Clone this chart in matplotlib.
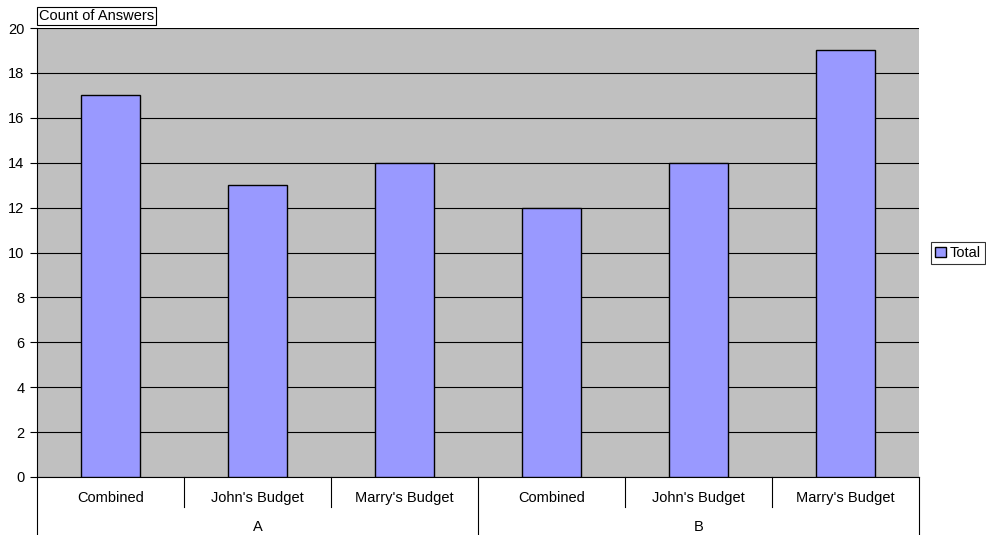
import matplotlib
matplotlib.use("Agg")
import matplotlib.pyplot as plt
from matplotlib.patches import Patch
from matplotlib.lines import Line2D

plt.rcParams['font.family'] = ['Liberation Sans', 'DejaVu Sans']

groups = ["A", "B"]
categories = ["Combined", "John's Budget", "Marry's Budget"]
values = [17, 13, 14, 12, 14, 19]
yticks = [0, 2, 4, 6, 8, 10, 12, 14, 16, 18, 20]

FS = 10.5
W, H = 987, 535
fig = plt.figure(figsize=(W / 100, H / 100), dpi=100)
L, R, T, B = 37, 919, 28, 477
ax = fig.add_axes([L / W, 1 - B / H, (R - L) / W, (B - T) / H])
ax.set_facecolor('#C0C0C0')

n = len(values)
xs = list(range(n))
ax.bar(xs, values, width=0.4, color='#9999FF', edgecolor='black', linewidth=1, zorder=3)
ax.set_xlim(-0.5, n - 0.5)
ax.set_ylim(0, 20)
ax.set_yticks(yticks)
ax.yaxis.grid(True, color='black', linewidth=0.8, zorder=1)
ax.set_axisbelow(True)
ax.tick_params(axis='y', direction='out', length=5, labelsize=FS, pad=4, width=0.8)
ax.set_xticks([])
for s in ['top', 'right']:
    ax.spines[s].set_visible(False)
ax.spines['left'].set_linewidth(0.8)
ax.spines['bottom'].set_linewidth(0.8)

# category labels
labels = [c for g in groups for c in categories]
trans = ax.get_xaxis_transform()
pix = 1.0 / (B - T)
for x, lab in zip(xs, labels):
    ax.text(x, -(498 - B) * pix, lab, transform=trans, ha='center', va='center', fontsize=FS)
# group labels
nc = len(categories)
for gi, g in enumerate(groups):
    cx = gi * nc + (nc - 1) / 2
    ax.text(cx, -(527 - B) * pix, g, transform=trans, ha='center', va='center', fontsize=FS)
# separators
for i in range(n + 1):
    xb = i - 0.5
    if i % nc == 0:
        y0 = -(H - B) * pix
    else:
        y0 = -(507 - B) * pix
    ax.add_line(Line2D([xb, xb], [0, y0], transform=trans, color='black',
                       linewidth=0.8, clip_on=False))

# title box
fig.text(39 / W, 1 - 16 / H, "Count of Answers", ha='left', va='center', fontsize=FS,
         bbox=dict(boxstyle='square,pad=0.12', facecolor='white', edgecolor='black', linewidth=0.8))

# legend
leg = fig.legend(handles=[Patch(facecolor='#9999FF', edgecolor='black', label='Total')],
                 loc='center left', bbox_to_anchor=(931 / W, 1 - 253 / H), fontsize=FS,
                 frameon=True, fancybox=False, edgecolor='black', handlelength=0.75,
                 handleheight=0.75, handletextpad=0.25, borderpad=0.3, borderaxespad=0)
leg.get_frame().set_linewidth(0.8)

fig.savefig('out.png', dpi=100)
